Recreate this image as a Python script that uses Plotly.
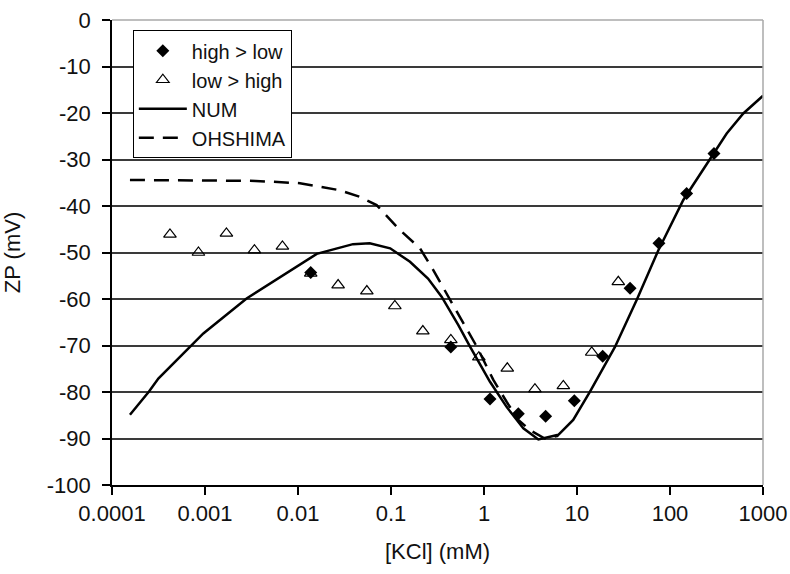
import plotly.graph_objects as go

# ---- data ----
hl_x = [0.0137, 0.44, 1.16, 2.34, 4.6, 9.35, 18.9, 37.2, 76, 151, 297]
hl_y = [-54.3, -70.3, -81.5, -84.7, -85.2, -81.9, -72.3, -57.7, -48.0, -37.3, -28.7]

lh_x = [0.00042, 0.00085, 0.0017, 0.0034, 0.0068, 0.0137, 0.027, 0.055, 0.11, 0.22,
        0.44, 0.88, 1.78, 3.53, 7.13, 14.4, 27.8]
lh_y = [-46.1, -50.0, -45.9, -49.5, -48.7, -54.5, -57.0, -58.3, -61.5, -66.9,
        -68.8, -72.5, -74.9, -79.4, -78.7, -71.5, -56.3]

num_x = [0.000156, 0.00025, 0.000315, 0.00072, 0.00096, 0.0028, 0.0159, 0.039, 0.059,
         0.098, 0.16, 0.25, 0.35, 0.53, 0.71, 1.16, 1.75, 2.65, 3.84, 6.3, 9.1, 13.8,
         19.2, 25.6, 43.8, 75, 139, 297, 407, 614, 1000]
num_y = [-84.9, -79.9, -77.1, -70.0, -67.4, -59.9, -50.3, -48.2, -48.0,
         -49.1, -52.0, -55.6, -59.5, -65.6, -70.3, -77.8, -83.2, -87.8, -90.2, -89.2, -86.0, -79.9,
         -74.6, -70.3, -60.2, -49.5, -38.7, -28.7, -24.4, -20.1, -16.3]

osh_x = [0.000156, 0.001, 0.0035, 0.0105, 0.028, 0.046, 0.070, 0.125, 0.205, 0.285,
         0.41, 0.6, 0.84, 1.26, 1.75, 2.34, 3.12, 4.5, 6.3]
osh_y = [-34.4, -34.5, -34.6, -35.1, -36.6, -38.0, -39.8, -45.2, -49.1, -53.8,
         -59.5, -65.2, -70.3, -77.4, -82.1, -86.0, -88.2, -90.0, -89.4]

x_tickvals = [0.0001, 0.001, 0.01, 0.1, 1, 10, 100, 1000]
x_ticktext = ["0.0001", "0.001", "0.01", "0.1", "1", "10", "100", "1000"]
y_tickvals = list(range(-100, 1, 10))
y_ticktext = [str(v) for v in y_tickvals]

FONT = "Liberation Sans, Arial, sans-serif"
TXT = "#111111"

fig = go.Figure()
fig.add_trace(go.Scatter(x=hl_x, y=hl_y, mode="markers", name="high > low",
                         marker=dict(symbol="diamond", size=10, color="black",
                                     line=dict(width=0))))
fig.add_trace(go.Scatter(x=lh_x, y=lh_y, mode="markers", name="low > high",
                         marker=dict(symbol="triangle-up-open", size=11, color="black",
                                     line=dict(width=1.2, color="black"))))
fig.add_trace(go.Scatter(x=num_x, y=num_y, mode="lines", name="NUM",
                         line=dict(color="black", width=2.5)))
fig.add_trace(go.Scatter(x=osh_x, y=osh_y, mode="lines", name="OHSHIMA",
                         line=dict(color="black", width=2.5, dash="15px,9px")))

fig.update_layout(
    width=790, height=574,
    margin=dict(l=112, r=27, t=20, b=89, autoexpand=False),
    paper_bgcolor="white", plot_bgcolor="white",
    font=dict(family=FONT, size=21, color=TXT),
    showlegend=True,
    legend=dict(x=0.032, y=0.978, xanchor="left", yanchor="top",
                bgcolor="white", bordercolor="black", borderwidth=1,
                font=dict(family=FONT, size=20, color=TXT),
                itemwidth=48),
    xaxis=dict(type="log", range=[-4, 3], tickvals=x_tickvals, ticktext=x_ticktext,
               automargin=False,
               showgrid=False, zeroline=False, showline=True, linecolor="black",
               linewidth=1.5, ticks="outside", ticklen=8, tickcolor="black",
               tickwidth=1.5, tickfont=dict(size=22, color=TXT),
               title=dict(text="[KCl] (mM)", font=dict(size=22, color=TXT), standoff=18)),
    yaxis=dict(range=[-100, 0], tickvals=y_tickvals, ticktext=y_ticktext, showgrid=True,
               automargin=False,
               gridcolor="#3a3a3a", gridwidth=1.5, zeroline=False, showline=True,
               linecolor="black", linewidth=1.5, ticks="outside", ticklen=8,
               tickcolor="black", tickwidth=1.5, tickfont=dict(size=22, color=TXT),
               ticklabelstandoff=7,
               title=dict(text="ZP (mV)", font=dict(size=22, color=TXT), standoff=20)),
    shapes=[
        dict(type="line", xref="paper", yref="paper", x0=0, x1=1, y0=1, y1=1,
             line=dict(color="#a8a8a8", width=1.5), layer="above"),
        dict(type="line", xref="paper", yref="paper", x0=1, x1=1, y0=0, y1=1,
             line=dict(color="#a8a8a8", width=1.5), layer="above"),
    ],
)

fig.write_html("out.html")
